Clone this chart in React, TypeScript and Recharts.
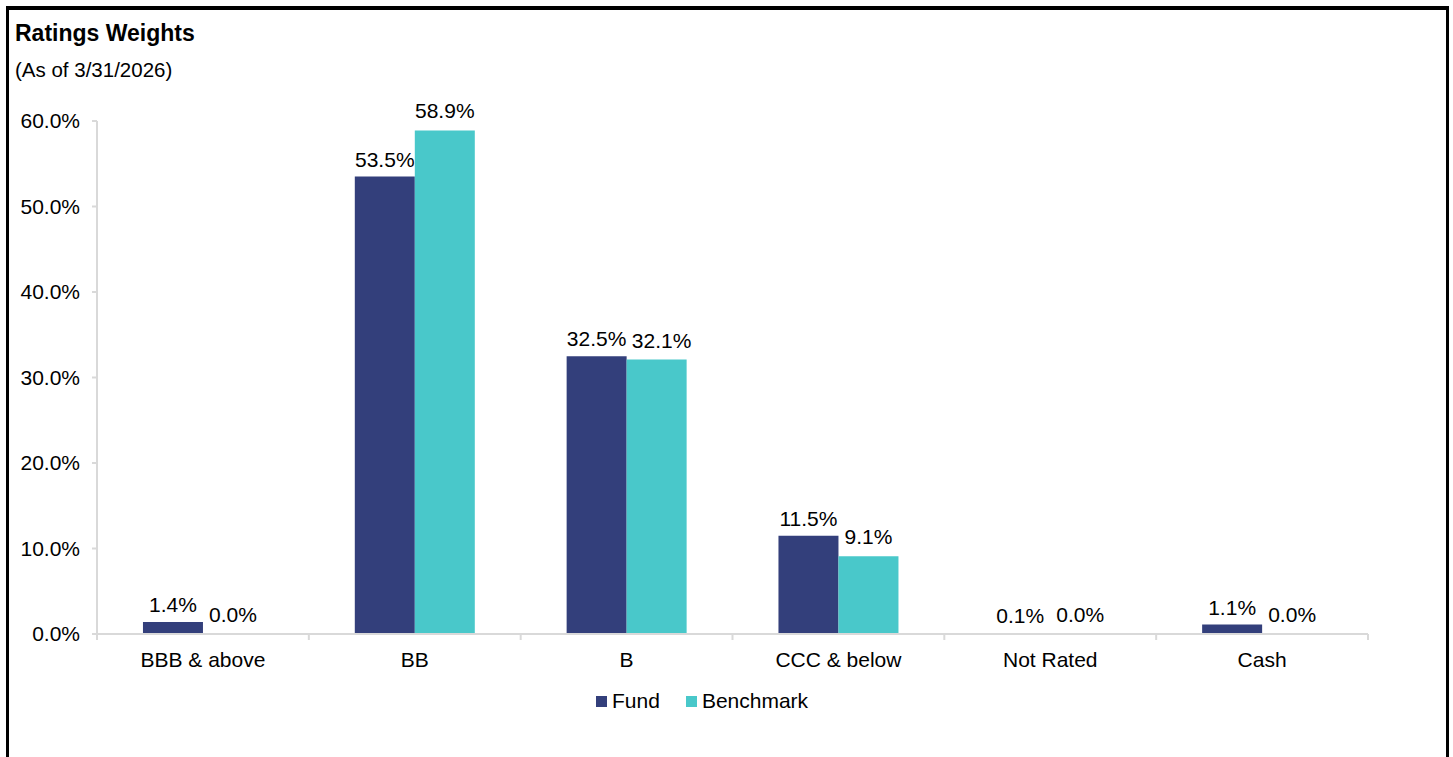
import { BarChart, Bar, XAxis, YAxis, LabelList } from 'recharts'

const categories = ['BBB & above', 'BB', 'B', 'CCC & below', 'Not Rated', 'Cash']
const fundValues = [1.4, 53.5, 32.5, 11.5, 0.1, 1.1]
const benchmarkValues = [0.0, 58.9, 32.1, 9.1, 0.0, 0.0]
const yTicks = [0, 10, 20, 30, 40, 50, 60]

const FUND_COLOR = '#333F7B'
const BENCH_COLOR = '#49C8CA'
const AXIS_COLOR = '#D9D9D9'
const FONT = '"Liberation Sans", Arial, sans-serif'

const chartData = categories.map((name, i) => ({
  name,
  fund: fundValues[i],
  benchmark: benchmarkValues[i],
}))

const fmt = (v: number) => `${Number(v).toFixed(1)}%`

// plot spans 97..1368, so each band is 1271 / 6 wide
const HALF_BAND = 1271 / categories.length / 2

function XTick(props: any) {
  const { x, y, payload, index } = props
  const top = y - 18
  return (
    <g>
      <line x1={x - HALF_BAND} x2={x - HALF_BAND} y1={top} y2={top + 6} stroke={AXIS_COLOR} strokeWidth={2} />
      {index === categories.length - 1 && (
        <line x1={x + HALF_BAND} x2={x + HALF_BAND} y1={top} y2={top + 6} stroke={AXIS_COLOR} strokeWidth={2} />
      )}
      <text x={x} y={y + 15} textAnchor="middle" fill="#000" fontSize={21} fontFamily={FONT}>
        {payload.value}
      </text>
    </g>
  )
}

// benchmark label: pushed a little right when it sits level with the fund label (like Excel does)
function BenchLabel(props: any) {
  const { x, y, width, value, index } = props
  const close = Math.abs(fundValues[index] - value) < 1 && value > 5
  return (
    <text
      x={x + width / 2 + (close ? 5 : 0)}
      y={y - 12}
      textAnchor="middle"
      fill="#000"
      fontSize={21}
      fontFamily={FONT}
    >
      {fmt(value)}
    </text>
  )
}

function LegendItem({ color, label }: { color: string; label: string }) {
  return (
    <div style={{ display: 'flex', alignItems: 'center', marginRight: 26 }}>
      <div style={{ width: 11, height: 11, background: color, marginRight: 5 }} />
      <span>{label}</span>
    </div>
  )
}

export default function App() {
  return (
    <div
      style={{
        position: 'absolute',
        left: 0,
        top: 0,
        width: 1453,
        height: 757,
        overflow: 'hidden',
        background: '#fff',
        fontFamily: FONT,
        color: '#000',
      }}
    >
      <div
        style={{
          position: 'absolute',
          left: 6,
          top: 6,
          width: 1437,
          height: 800,
          borderTop: '4px solid #000',
          borderLeft: '3px solid #000',
          borderRight: '3px solid #000',
        }}
      />
      <div style={{ position: 'absolute', left: 15, top: 20, fontSize: 23, fontWeight: 'bold', whiteSpace: 'nowrap' }}>
        Ratings Weights
      </div>
      <div style={{ position: 'absolute', left: 15, top: 58, fontSize: 20.5, whiteSpace: 'nowrap' }}>
        (As of 3/31/2026)
      </div>
      <div style={{ position: 'absolute', left: 0, top: 0 }}>
        <BarChart
          width={1453}
          height={757}
          data={chartData}
          margin={{ top: 121, right: 85, left: 0, bottom: 83 }}
          barCategoryGap="21.7%"
          barGap={0}
        >
          <XAxis
            dataKey="name"
            height={40}
            axisLine={{ stroke: AXIS_COLOR, strokeWidth: 2 }}
            tickLine={false}
            tickMargin={12}
            tick={<XTick />}
            interval={0}
          />
          <YAxis
            width={97}
            domain={[0, 60]}
            ticks={yTicks}
            tickFormatter={fmt}
            axisLine={{ stroke: AXIS_COLOR, strokeWidth: 2 }}
            tickLine={{ stroke: AXIS_COLOR, strokeWidth: 2 }}
            tickSize={5}
            tickMargin={12}
            tick={{ fill: '#000', fontSize: 21, fontFamily: FONT }}
          />
          <Bar dataKey="fund" name="Fund" fill={FUND_COLOR} minPointSize={0.01} isAnimationActive={false}>
            <LabelList dataKey="fund" position="top" offset={10} formatter={fmt} fill="#000" fontSize={21} fontFamily={FONT} />
          </Bar>
          <Bar dataKey="benchmark" name="Benchmark" fill={BENCH_COLOR} minPointSize={0.01} isAnimationActive={false}>
            <LabelList dataKey="benchmark" content={<BenchLabel />} />
          </Bar>
        </BarChart>
      </div>
      <div
        style={{
          position: 'absolute',
          left: 596,
          top: 689,
          display: 'flex',
          fontSize: 21,
          whiteSpace: 'nowrap',
        }}
      >
        <LegendItem color={FUND_COLOR} label="Fund" />
        <LegendItem color={BENCH_COLOR} label="Benchmark" />
      </div>
    </div>
  )
}
